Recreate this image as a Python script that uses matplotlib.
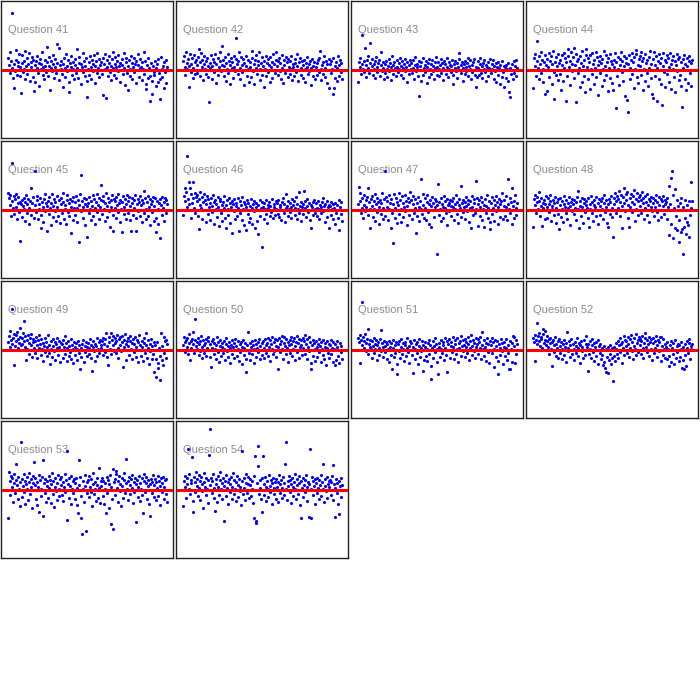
import numpy as np
import matplotlib.pyplot as plt

# numero da pergunta de cada painel
questions = [41, 42, 43, 44, 45, 46, 47, 48, 49, 50, 51, 52, 53, 54]

# residuos (um valor por respondente, 0 = linha vermelha)
q41 = [12, 5, -3, 18, 9, 57, 2, -8, -18, 6, -1, 20, 10, -5, 4, 8, 16, -6, 3, -23,
       7, 15, -2, 9, 1, 19, -9, 4, 12, -4, 6, 17, 0, -11, 8, 3, 13, -7, 10, -21,
       5, -12, 9, 2, 14, -3, 7, -16, 11, 1, 6, 18, -5, 3, -9, 10, 4, -2, 8, 23,
       -6, 4, 13, -20, 2, 9, -1, 15, 6, -8, 3, 11, -3, 26, 7, 0, -10, 22, 5, 1,
       9, -4, -17, 6, 12, 2, -7, 16, 4, -1, 10, -12, -22, 7, 3, 14, -5, 1, 8, -9,
       5, 11, -3, 21, 2, -8, 7, 13, 0, -14, 6, 3, 17, -2, 9, -6, 4, 12, -11, -27,
       1, 8, -5, 14, 3, -9, 10, 6, -1, 15, -13, 4, 9, -3, 17, 2, -7, 11, 5, 0,
       8, -4, 12, -25, 6, 1, 16, -28, 3, 10, -6, 7, 14, -2, 4, -10, 11, 2, 18, -5,
       6, 13, -8, 3, 9, -1, 15, 4, -12, 7, 0, 11, 5, -4, 17, 2, -15, 8, 12, -3,
       -20, 4, 10, -6, 1, 14, 7, -9, 3, 12, -2, 6, -13, 9, 0, 16, 5, -7, 11, 2,
       3, -10, 8, 1, 18, -4, 9, -14, -19, 5, -8, 12, 2, -6, -31, 7, -11, -24, 4, -2,
       -5, 9, -16, 2, 6, -12, 11, -3, -9, -29, 13, 1, -7, 4, -18, 8, -2, 10, -13, 3]
q42 = [9, 14, 3, -5, 18, 7, 1, 11, -17, 4, 16, -2, 6, 12, -8, 2, 15, 8, -4, 10,
       5, -3, 13, 0, 21, 8, -6, 17, 3, 10, -10, 6, 14, 1, -4, 9, 12, -7, 4, -32,
       7, 2, 15, -9, 4, 11, -2, 8, 16, -13, 6, 0, 12, -5, 3, 9, 18, -1, 24, 5,
       10, -6, 4, 13, -11, 7, 1, 16, -3, 9, 5, -14, 12, 2, 8, -8, 14, 3, -1, 11,
       32, 6, -4, 9, 18, 2, -9, 13, 5, -2, 11, -15, 7, 0, 14, 4, -6, 10, 1, -12,
       8, 3, -7, 12, 19, -1, 6, -14, 10, 2, 15, -4, 5, 9, 18, -10, 1, 7, -5, 13,
       4, -17, 9, 1, 14, -6, 7, 11, -2, 5, -12, 13, 3, 8, -8, 16, 0, 6, -3, 10,
       18, 4, -5, 9, 12, -1, 7, -9, 15, 2, -13, 10, 5, -3, 13, 0, 8, -7, 11, 3,
       -4, 9, 1, 14, -10, 6, 3, -6, 11, 7, -2, 16, 4, -11, 8, 0, 12, -5, 2, 9,
       5, -8, 10, 1, -12, 7, 3, 13, -4, 6, -1, 9, -15, 2, 11, -6, 4, 8, -9, 0,
       3, 7, -5, 10, -2, 12, 19, 1, -10, 5, 8, -4, 14, -7, 2, 9, -13, 6, 0, 11,
       -18, 6, -3, 9, 1, -24, 12, -18, 4, -8, 8, 2, -11, 14, 5, -6, 10, -2, 7, -9]
q43 = [-12, 8, 3, 12, -4, 6, 35, 1, 9, -2, 22, 5, -7, 10, 2, 14, -3, 27, 7, 0,
       4, 11, -5, 6, 1, 9, -8, 13, 3, -2, 7, 0, 10, -6, 5, 18, -1, 8, 2, -9,
       6, -3, 9, 1, -7, 4, 11, -1, 7, 3, -10, 14, 5, -4, 8, 0, 2, -6, 10, 3,
       -2, 7, 1, 12, -5, 4, 9, -8, 2, 6, -1, 11, 3, -12, 8, 0, 5, -4, 10, 1,
       7, -3, 10, 2, -9, 5, 13, -1, 6, 3, -6, 9, -26, 4, -11, 8, 0, 12, -5, 2,
       5, -2, 9, -13, 3, 7, -7, 11, 1, -4, 6, 10, -1, 4, -9, 8, 2, 13, -5, 3,
       8, 1, -6, 5, 11, -3, 7, 2, -10, 9, 0, 6, -4, 12, 3, -7, 8, 1, 5, -2,
       4, 10, -5, -14, 6, 2, 9, -1, 7, -8, 3, 11, 17, 0, 5, -3, 8, -11, 2, 6,
       -4, 9, 3, -1, 7, 12, -6, 4, 1, 10, -9, 5, -2, 8, 0, 11, -5, 3, -17, -7,
       9, 2, -5, 6, 12, -3, 4, -8, 7, 1, 10, -2, 5, -11, 3, 8, -6, 2, 11, 0,
       -3, 6, 1, 10, -9, 4, -1, 7, -12, 3, 8, -5, 2, -14, 5, 0, -7, 9, -2, 4,
       -17, 3, -8, 5, 1, -11, 7, -22, 2, -27, -4, 6, 0, -9, 9, -3, 4, -6, 10, 2]
q44 = [-18, 12, 4, 16, -6, 9, 29, 2, 14, -9, 6, 18, -3, 10, 1, -12, 8, 15, -24, 5,
       -21, 11, 3, 17, -7, 9, 0, 14, -14, 6, 19, -2, -29, 8, 13, -5, 4, 16, -10, 7,
       10, -4, -20, 15, 5, -11, 17, 2, 12, -31, 8, -6, 14, 21, 3, -15, 9, 18, -1, 6,
       13, 22, -8, 5, 16, -32, 9, -3, 11, 2, -17, 14, 7, -12, 19, 4, -6, 10, -22, 15,
       21, 3, 12, -9, 8, -19, 15, 1, -4, 17, 6, -14, 10, 2, 18, -7, 13, -25, 5, 9,
       -3, 14, 7, -16, 11, 1, 19, -10, 4, 15, -5, 8, -21, 12, 2, 16, -8, 9, -13, 6,
       -20, 10, 3, 17, -38, 8, -6, 13, 1, -15, 11, 5, 18, -2, 9, -11, 14, 4, -26, 7,
       12, -30, 6, -42, 15, 2, -9, 10, 17, -4, 8, -18, 13, 1, 20, 16, -7, 5, -13, 11,
       4, 14, -5, 18, 9, -20, 12, 1, -11, 16, 7, -3, 10, -16, 13, 2, 19, -8, 6, -24,
       -28, 11, 18, 5, -6, 14, 2, -31, 9, 16, -9, 7, -14, 12, -35, 4, 17, -2, 10, -17,
       8, 15, -4, 12, 3, -12, 17, 6, -19, 10, 1, 14, -7, 9, -22, 5, 16, -1, 11, -10,
       13, -5, 8, -16, -37, 11, 2, 15, -9, 6, -20, 12, 4, -13, 9, 14, -3, -16, 7, 10]
q45 = [17, 12, 5, 15, -6, 47, 9, 2, 14, -4, 11, 16, 3, -9, 7, 13, -2, 8, -31, 6,
       10, -7, 4, 12, 1, -11, 8, 15, -3, 6, 11, -14, 2, 9, -5, 22, 7, 0, 13, -8,
       39, 5, -2, 10, 14, -9, 6, 1, 12, -5, -18, 8, 3, -12, 11, 16, -1, 7, -21, 4,
       9, -4, 13, 2, -15, 7, 16, -7, 4, 11, -1, 8, -11, 3, 14, -6, 10, 0, -13, 6,
       12, -3, 8, 17, -9, 5, 1, -14, 10, 15, -2, 7, -6, 11, 3, -23, 9, -10, 13, 2,
       -5, 8, 14, 2, -12, 10, 5, -32, 16, 35, -1, 9, 3, -8, 12, 6, -15, 11, -27, 4,
       7, -3, 13, 1, -10, 9, 4, 15, -6, 11, 2, -14, 8, 16, -2, 5, 12, -9, 3, 10,
       25, -4, 9, 14, 1, -11, 7, 17, -7, 4, 12, -1, 8, -17, 10, 3, 15, -5, -21, 11,
       2, 9, -8, 13, 5, -2, 16, 7, -12, 10, 1, -22, 8, 14, -4, 3, 11, -9, 6, 15,
       -3, 9, 13, 4, -10, -21, 7, 12, -5, 10, 2, 15, -8, -21, 6, 11, -1, 8, 14, -6,
       5, 10, -12, 7, 19, -3, 12, 1, -9, 8, 14, -6, 3, 11, -15, 6, 9, -2, 13, -11,
       4, 12, -8, -22, 9, 1, -14, 7, 11, -28, 5, -5, 13, 2, -11, 8, 12, -3, 10, 6]
q46 = [-5, 14, 22, 9, 18, 3, 54, 11, 28, 6, 22, -8, 16, 7, 28, 12, 2, 17, -3, 13,
       9, 15, -6, 11, -19, 5, 18, 2, 13, -9, 8, 16, 0, 10, -12, 6, 14, -4, 11, 3,
       7, -10, 12, 4, -2, 15, 8, -14, 10, 1, 6, -7, 13, 3, -16, 9, 11, -3, 5, -11,
       8, 2, 14, -8, 5, -18, 10, 1, -5, 12, 7, -13, 3, 9, -23, 6, -1, 11, -9, 4,
       7, -6, 12, 2, -21, 9, -3, 5, 13, -10, 1, 8, -15, 6, 3, -20, 10, -4, 7, -12,
       4, -8, 11, 2, -14, 6, -1, 9, -18, 3, 7, -11, -24, 5, 0, 10, -6, 2, 8, -37,
       3, -9, 7, 1, -4, 10, -13, 5, 2, 8, -6, 4, -2, 11, 0, -8, 6, 3, -5, 9,
       1, 7, -4, 10, -7, 3, 5, -10, 8, 0, 12, -3, 6, -12, 2, 16, 4, -6, 9, 1,
       -2, 7, 3, -8, 11, 5, 0, 9, -5, 2, 13, -9, 6, 1, -3, 18, 4, 8, -11, 3,
       6, -4, 19, 2, 9, -7, 4, 11, -2, 7, 0, -10, 5, -18, 3, 8, -5, 10, 1, -3,
       7, 2, -6, 9, 1, -9, 5, 3, -3, 8, 12, -1, 4, -12, 6, 0, 9, -7, 3, 5,
       -18, 4, -5, 8, 1, -9, 6, 2, -14, 7, -3, 5, 0, -8, 10, -20, 3, -4, 8, -11]
q47 = [6, 23, 17, 9, -3, 12, 2, -8, 15, 5, -1, 10, 3, 13, 22, -5, 8, 1, -18, 11,
       4, 14, -7, 9, 1, 16, -11, 6, 12, -2, 8, -14, 3, 10, -4, 7, 17, -9, 2, 11,
       39, -6, 13, 3, 9, -10, 15, 1, 7, -18, 11, -3, -33, 6, 16, -8, 2, 12, -13, 8,
       5, 17, -4, 10, 1, -12, 14, 7, -7, 3, 15, -1, 9, -15, 4, 12, -5, 8, 18, 0,
       10, -9, 6, 14, -3, 2, 11, -23, 7, -6, 13, 3, -11, 9, 1, 31, -4, 16, 5, -8,
       12, 2, -10, 8, 15, -2, 6, -14, 10, 4, -17, 13, 0, 7, -7, 11, 3, 9, -44, 5,
       26, -5, 8, 1, 12, -11, 6, 3, -8, 14, 2, 9, -3, 11, -15, 5, 7, -1, 10, 4,
       -6, 9, 3, 12, -10, 6, 1, 15, -4, 8, -13, 5, 11, 2, -7, 24, 7, -2, 10, 3,
       8, -9, 13, 4, -1, 10, 6, -12, 2, 9, -18, 14, 3, -5, 7, 11, -3, 29, 1, 12,
       -16, 6, 10, -6, 3, 13, -10, 8, 1, 5, -17, 11, 4, -3, 15, 2, -8, 9, -19, -12,
       7, 13, -4, 2, 10, -11, 5, 14, -1, 8, -14, 3, 11, 6, -7, 9, 17, 0, -9, 4,
       10, -6, 3, 14, -10, 31, 6, 1, 12, -3, 8, -14, 22, 4, -8, 9, 15, 2, -5, 7]
q48 = [-17, 11, 5, 15, -3, 8, 13, 1, 9, 18, -6, 4, 12, -16, 7, 2, 10, -9, 6, 14,
       3, -8, 12, 6, -2, 9, 15, -11, 4, 1, 10, -5, 7, 13, -13, 2, 8, -4, 11, -19,
       5, 12, -7, 9, 1, -12, 6, 14, 3, -3, 10, -9, 7, 2, 13, -15, 4, 8, -1, 11,
       6, -4, 10, 2, -10, 8, 13, 19, 1, -18, 9, 4, -6, 12, 3, -13, 7, 11, -2, 5,
       9, 2, -8, 12, -17, 6, 1, 14, -3, 8, -11, 5, 10, 3, -6, 13, 0, 7, -14, 11,
       4, -5, 9, 12, 1, -9, 7, 15, -2, 10, 3, -13, -17, 6, 11, -4, 8, 14, 2, -7,
       -27, 12, 6, 17, -3, 9, 14, 2, 11, 19, -6, 8, 15, -18, 4, 13, 22, 7, -1, 16,
       10, 18, 5, -8, -17, 12, 3, 16, 8, -2, 14, 20, 6, -11, 11, 1, 17, 9, -5, 13,
       4, 15, 10, -3, 18, 7, 12, -9, 2, 14, 8, -5, 16, 5, 11, -12, 9, 3, 13, -1,
       7, 12, -6, 10, 3, 15, -2, 8, -10, 13, 5, 0, 11, -7, 9, 4, 14, -4, 6, 10,
       8, -9, 12, 3, 24, -25, 6, 32, -14, 39, -28, 15, 2, -18, 21, -6, 10, -20, 4, -32,
       -10, 7, -22, 12, -19, -44, 3, -17, -8, 10, -24, -12, 5, -15, 9, -27, -5, 28, 2, 9]
q49 = [8, 14, 3, 19, 10, 41, 6, 12, -15, 16, 4, 9, 15, 18, 2, 11, 7, 22, 13, 5,
       12, 6, 17, 9, 29, 3, 14, -10, 10, 1, 15, 7, -4, 12, 5, 16, -7, 8, 11, 2,
       9, -3, 13, 5, -8, 10, 2, 15, 6, -5, 11, 1, 7, -11, 4, 12, -2, 8, 3, -6,
       15, 5, -3, -14, 9, 1, -7, 11, 4, -1, 8, -10, 6, 2, 12, -5, 3, 9, -12, 7,
       0, 6, -8, 10, 3, 14, -4, 7, -11, 2, 9, -6, 4, -2, 11, -9, 5, 1, -13, 8,
       3, -5, 7, -10, 1, 9, -3, 5, -19, 2, -7, 6, 0, 10, -12, 4, -2, 8, -6, 3,
       7, -4, 2, 11, -8, 5, -21, 3, 9, -1, 6, -11, 4, 12, -6, 1, 8, -3, 10, 5,
       2, 9, -5, 12, 6, -2, 11, 17, 4, -7, -15, 8, 13, 1, 17, -4, 10, 5, 14, -1,
       7, 12, -3, 9, 15, 2, -8, 11, 5, 13, -1, 8, 14, -17, 10, 3, 16, 6, -10, 9,
       4, 12, -5, 9, 14, 1, -9, 7, 11, -2, 6, 13, -7, 3, 10, -12, 8, 15, 0, 5,
       -6, 9, 3, -11, 7, 12, -3, 5, 17, -8, 2, 10, -14, 6, -1, 11, -9, 4, -4, 8,
       -22, 5, -9, -27, 8, -13, -18, 2, -6, -30, 17, -10, 4, -15, 13, -3, 9, -8, 10, 6]
q50 = [5, 13, 8, -2, 10, 3, 12, -4, 7, 16, -10, 9, 2, 11, 18, 6, -3, 31, 10, 4,
       8, 1, 12, -5, 6, 9, -1, 14, 3, -8, 10, 5, -3, 7, 11, -6, 2, 9, 13, 0,
       6, -7, -17, 9, 2, 11, -4, 7, 1, -9, 5, 13, -2, 8, -12, 4, 10, -6, 3, 7,
       -3, 9, 1, -10, 6, 12, -1, 4, -7, 8, 2, -13, 5, 10, -4, 3, 7, -8, 11, 0,
       4, -6, 9, 1, -11, 6, -2, 8, -14, 3, 10, -5, 2, 7, -9, -22, 5, 0, 18, -3,
       7, -10, 3, 9, -4, 5, -13, 1, 10, 6, -7, 2, 8, -2, 11, -9, 4, 0, 7, -5,
       9, 2, -8, 11, 5, -3, 7, 12, -6, 3, 10, -11, 6, 1, 13, -4, 8, -1, 11, 4,
       -7, 10, 3, -19, 12, 6, -2, 9, 14, 1, -9, 7, 13, 4, -4, 11, 2, 8, -12, 5,
       10, -3, 13, 6, -6, 9, 1, 12, -10, 4, 8, 14, -2, 7, 11, -8, 3, 10, 5, -5,
       12, 2, 9, -4, 15, 6, -9, 11, 3, 13, -1, 8, -13, -19, 5, 10, -6, 7, 1, -11,
       9, 3, -7, 6, 11, -2, 4, -12, 8, 1, -5, 10, -9, 3, 7, -15, 2, 9, -3, 6,
       -8, 5, 10, -4, 2, -12, 8, 1, -15, 6, -10, 3, 9, -6, 0, -13, 7, -2, 4, -9]
q51 = [12, 8, -13, 15, 10, 48, 5, 13, 2, 9, 16, -1, 7, 11, -4, 21, 6, 3, 10, 1,
       9, -8, 4, 12, -3, 6, 1, 10, -10, 5, 8, -5, 2, 11, -1, 20, 7, -7, 3, 9,
       4, -2, 8, -9, 6, 1, -12, 9, 3, -5, 7, -19, 2, 10, -7, 5, -3, 8, -14, -24,
       6, -1, 9, -8, 3, 11, -4, 7, 1, -11, 5, 8, -6, 2, 12, -2, 4, -13, 9, 0,
       7, -5, -23, 3, 10, -9, 1, 6, -3, 8, -14, 4, 11, -7, 2, -1, 9, -21, 5, -10,
       3, 8, -6, 1, -11, 7, 10, -4, 5, -29, -16, 2, 9, -8, 4, 12, -2, 6, -12, 1,
       -24, 7, 3, -7, 10, 1, -3, 8, 5, -10, 12, 2, -5, 9, -22, 6, 0, 11, -8, 4,
       8, -2, 13, 3, -9, 6, 10, -4, 1, 12, -12, 7, 2, 9, -6, 14, 4, -1, 10, 5,
       -7, 11, 3, 8, -3, 13, 6, -10, 2, 9, 15, -5, 4, 10, -1, 7, -8, 12, 3, 6,
       11, -4, 8, 2, 13, -9, 5, 18, 1, -6, 10, 3, -11, 7, 12, -2, 6, -13, 9, 0,
       5, 12, -3, 8, 1, -17, 10, -7, 4, 9, -11, -24, 6, 2, -5, 11, -1, 7, -14, 3,
       8, -6, 11, 2, -10, 5, -3, -19, 9, -19, 1, 7, -12, 14, 13, 4, -13, 10, -4, 6]
q52 = [12, 8, -11, 15, 10, 27, 6, 14, 17, 9, 4, 13, 11, 2, 16, 21, 7, 19, 10, 5,
       9, 14, 3, 11, -4, 7, 12, 1, -16, 8, 10, -2, 5, 13, -6, 6, 2, 9, -8, 11,
       4, -3, 8, 1, -9, 6, 10, -5, 3, 7, -12, 18, 2, -1, 9, -7, 5, 11, 0, -4,
       6, 1, -10, 8, -3, 4, 12, -6, 2, 7, -13, 5, 9, -1, 3, -8, 10, 0, -5, 6,
       14, 3, -21, 6, -4, 9, 1, -8, 5, 11, -2, 7, -11, 3, 8, -6, 0, 10, -14, 4,
       -3, 6, -9, 2, -5, -15, 4, -12, -18, 1, -22, -7, -23, 3, -10, 5, -4, -14, 2, -8,
       -31, -6, 3, -11, 7, 1, -4, 9, -8, 5, 12, -2, 6, -13, 8, 2, 14, -5, 10, 4,
       9, -3, 13, 6, -7, 11, 2, 15, -1, 8, -9, 4, 12, 1, 16, -5, 7, 10, -2, 13,
       5, 11, -4, 9, 14, 2, -8, 7, 12, 17, 3, -2, 10, 6, 13, -6, 8, 1, 11, -10,
       7, 12, -3, 9, 2, 14, -7, 5, 10, -1, 8, 13, -11, 13, 4, -5, 11, 1, -8, 6,
       3, -9, 8, 1, -6, -16, 5, -12, 9, 2, -4, 7, -14, 0, 10, -8, 4, -2, 6, -11,
       5, -7, 8, 1, -18, 3, -10, -19, 6, -5, -16, 9, 2, -3, 11, 7, -9, 4, 1, 6]
q53 = [-28, 18, 9, -5, 14, 3, 12, -12, 7, 16, -3, 10, 26, 5, -9, 13, 1, -16, 8, 48,
       11, -7, 4, 16, -2, 9, -14, 6, 13, 1, -10, 8, 17, -4, 3, 11, -18, 7, 14, 28,
       5, 12, -9, 8, -15, 3, 15, -22, 10, 1, -6, 13, 30, -26, 7, -3, 11, -12, 4, 9,
       -8, 14, 2, 10, -13, 6, 17, -4, 9, -17, 3, 12, -1, 7, -10, 15, 1, -6, 11, 5,
       13, -5, 8, -11, 3, 16, -2, 10, 39, -30, 6, 12, -8, 4, 14, -14, 1, 9, -3, 11,
       7, -9, 12, 2, -15, -23, 30, 5, 13, -6, -28, -44, 9, 1, -12, 15, 4, -41, 8, -3,
       10, -7, 14, 3, -2, 11, -16, 6, 17, -4, 8, 1, -11, 12, 5, -8, 22, 2, -13, 9,
       4, 12, -6, 9, -14, 7, 1, -23, 13, -3, 10, -18, 6, 15, -34, 3, -9, 21, -39, 8,
       11, -5, 16, 19, 2, -12, 9, 14, -1, 6, -16, 12, 4, -8, 10, 17, -3, 7, 31, 1,
       9, -10, 13, 5, -4, 11, 2, 15, -13, 8, -2, 12, 6, -32, 10, -7, 3, 14, -11, 7,
       1, 12, -5, -23, 9, 16, -2, 7, 13, -9, 4, 10, -14, 6, -26, 11, -3, 8, 15, -7,
       5, 11, -10, 8, 2, 14, -6, 9, -15, 4, 12, -2, 7, 13, -9, 3, 10, -4, 11, -12]
q54 = [-16, 9, 14, 3, -8, 12, 6, 41, 1, 16, -4, 10, 7, 33, -11, -22, 13, -2, 8, 18,
       4, 11, -6, 15, 2, 9, -10, 13, 6, -1, -18, 8, 17, 3, -5, 12, 1, 10, -13, 35,
       61, 5, 12, -3, 9, 16, -8, 2, -21, 11, 6, -12, 14, 3, -5, 10, 18, 1, -9, 7,
       12, -31, 4, 9, -6, 15, 2, -14, 8, 11, -2, 6, 13, -9, 3, 17, -4, 10, 1, -11,
       8, 14, -7, 5, 11, -1, 3, -15, 39, 9, -4, 12, 2, -10, 7, 16, -3, 6, 13, -8,
       5, 11, -6, 9, 1, -13, 14, -28, 34, -33, -31, 7, 24, 44, -4, 10, 2, -9, 12, -22,
       34, 6, -5, 13, 3, -11, 9, 1, -7, 15, 4, -2, 10, -14, 7, 12, -4, 2, 8, -9,
       11, 3, -12, 8, 15, -3, 6, 10, -8, 2, 13, -5, 7, 26, 1, 48, -10, 9, 4, 14,
       -2, 10, 6, -13, 12, 3, -6, 8, 16, 1, -9, 11, 5, -4, 14, 7, -15, -28, 9, 2,
       12, -7, 5, 10, -2, 15, 3, -11, 8, -27, 6, 41, 1, -28, 13, -5, 9, 4, -14, 11,
       7, -3, 12, 2, -9, 10, 5, 15, -6, 8, 26, 1, -12, 11, 4, -1, 13, -8, 6, 9,
       3, 10, -5, 8, 14, 25, -10, 6, -27, 2, 11, -3, 7, -14, 9, -24, 4, 12, -7, 5]

residuals = [q41, q42, q43, q44, q45, q46, q47, q48, q49, q50, q51, q52, q53, q54]
ref_level = 0

fig = plt.figure(figsize=(7, 7), dpi=100)

for k, (q, vals) in enumerate(zip(questions, residuals)):
    row, col = divmod(k, 4)
    # paineis de 172x137 px numa grade 4x4
    left = (1 + 175 * col) / 700
    bottom = 1 - (1 + 140 * row + 137) / 700
    ax = fig.add_axes([left, bottom, 172 / 700, 137 / 700])

    y = np.array(vals)
    x = np.arange(len(y))
    span = (len(y) - 1) / 0.923
    ax.set_xlim(-0.042 * span, 0.958 * span)
    ax.set_ylim(-68, 69)

    ax.scatter(x, y, s=5, c='#0000ff', linewidths=0, zorder=2)
    ax.axhline(ref_level, xmin=0.01, xmax=0.99, color='#ff0000', lw=2.2, zorder=3)
    ax.text(0.04, 0.79, f'Question {q}', transform=ax.transAxes, color='#8c8c8c',
            fontsize=8, family='Liberation Sans', va='center', ha='left', zorder=1)

    ax.set_xticks([])
    ax.set_yticks([])
    for sp in ax.spines.values():
        sp.set_color('#222222')
        sp.set_linewidth(1.0)

fig.savefig('out.png', dpi=100)
